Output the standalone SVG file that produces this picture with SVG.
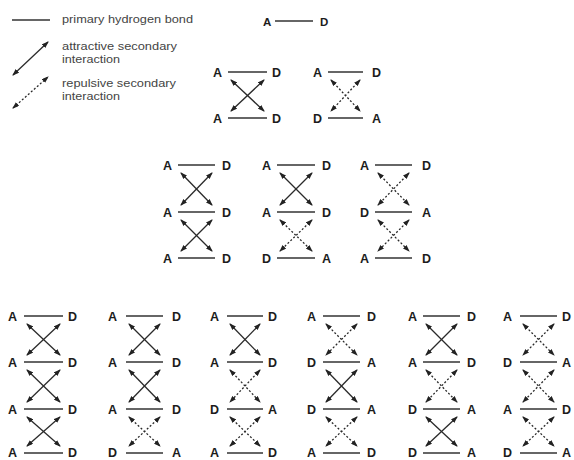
<svg xmlns="http://www.w3.org/2000/svg" width="574" height="460" viewBox="0 0 574 460">
<style>
.bg{fill:#ffffff}
.lt{font-family:"Liberation Sans",Arial,sans-serif;font-weight:bold;font-size:12.5px;fill:#1c1c1c}
.hd{font-size:11.5px}
.lg{font-family:"Liberation Sans",Arial,sans-serif;font-size:11.5px;fill:#444}
.hb{stroke:#333;stroke-width:1.6;fill:none}
.at{stroke:#2a2a2a;stroke-width:1.3;fill:none;marker-start:url(#ah);marker-end:url(#ah)}
.rp{stroke:#2a2a2a;stroke-width:1.3;fill:none;stroke-dasharray:2 2;marker-start:url(#ah);marker-end:url(#ah)}
</style>
<defs>
<marker id="ah" viewBox="0 0 7 5" refX="6" refY="2.5" markerWidth="7" markerHeight="5" markerUnits="userSpaceOnUse" orient="auto-start-reverse">
<path d="M0,0 L7,2.5 L0,5 z" fill="#222"/>
</marker>
</defs>
<rect class="bg" x="0" y="0" width="574" height="460"/>

<g id="legend">
<line class="hb" x1="12" y1="20" x2="50" y2="20"/>
<text class="lg" x="62" y="23" textLength="131" lengthAdjust="spacingAndGlyphs">primary hydrogen bond</text>
<line class="at" x1="13" y1="75" x2="48" y2="42"/>
<text class="lg" x="62" y="50" textLength="115" lengthAdjust="spacingAndGlyphs">attractive secondary</text>
<text class="lg" x="62" y="63" textLength="58" lengthAdjust="spacingAndGlyphs">interaction</text>
<line class="rp" x1="13" y1="108" x2="48" y2="77"/>
<text class="lg" x="62" y="87" textLength="114" lengthAdjust="spacingAndGlyphs">repulsive secondary</text>
<text class="lg" x="62" y="100" textLength="58" lengthAdjust="spacingAndGlyphs">interaction</text>
</g>

<g id="header">
<text class="lt hd" x="263" y="25.5">A</text>
<line class="hb" x1="275" y1="21" x2="313" y2="21"/>
<text class="lt hd" x="320" y="25.5">D</text>
</g>

<!-- Row 1 -->
<g id="s1a">
<text class="lt" x="213" y="77">A</text><line class="hb" x1="228" y1="72" x2="267" y2="72"/><text class="lt" x="272" y="77">D</text>
<text class="lt" x="213" y="123">A</text><line class="hb" x1="228" y1="118" x2="267" y2="118"/><text class="lt" x="272" y="123">D</text>
</g>
<g id="s1b">
<text class="lt" x="313" y="77">A</text><line class="hb" x1="328" y1="72" x2="363" y2="72"/><text class="lt" x="372" y="77">D</text>
<text class="lt" x="313" y="123">D</text><line class="hb" x1="328" y1="118" x2="363" y2="118"/><text class="lt" x="372" y="123">A</text>
</g>

<!-- Row 2 -->
<g id="s2a">
<text class="lt" x="163" y="170">A</text><line class="hb" x1="178" y1="165" x2="215" y2="165"/><text class="lt" x="222" y="170">D</text>
<text class="lt" x="163" y="217">A</text><line class="hb" x1="178" y1="212" x2="215" y2="212"/><text class="lt" x="222" y="217">D</text>
<text class="lt" x="163" y="263">A</text><line class="hb" x1="178" y1="258" x2="215" y2="258"/><text class="lt" x="222" y="263">D</text>
</g>
<g id="s2b">
<text class="lt" x="262" y="170">A</text><line class="hb" x1="277" y1="165" x2="315" y2="165"/><text class="lt" x="322" y="170">D</text>
<text class="lt" x="262" y="217">A</text><line class="hb" x1="277" y1="212" x2="315" y2="212"/><text class="lt" x="322" y="217">D</text>
<text class="lt" x="262" y="263">D</text><line class="hb" x1="277" y1="258" x2="315" y2="258"/><text class="lt" x="322" y="263">A</text>
</g>
<g id="s2c">
<text class="lt" x="360" y="170">A</text><line class="hb" x1="375" y1="165" x2="412" y2="165"/><text class="lt" x="422" y="170">D</text>
<text class="lt" x="360" y="217">D</text><line class="hb" x1="375" y1="212" x2="412" y2="212"/><text class="lt" x="422" y="217">A</text>
<text class="lt" x="360" y="263">A</text><line class="hb" x1="375" y1="258" x2="412" y2="258"/><text class="lt" x="422" y="263">D</text>
</g>

<!-- Row 3 -->
<g id="s3a">
<text class="lt" x="8" y="321">A</text><line class="hb" x1="24" y1="316" x2="63" y2="316"/><text class="lt" x="68" y="321">D</text>
<text class="lt" x="8" y="367">A</text><line class="hb" x1="24" y1="362" x2="63" y2="362"/><text class="lt" x="68" y="367">D</text>
<text class="lt" x="8" y="414">A</text><line class="hb" x1="24" y1="409" x2="63" y2="409"/><text class="lt" x="68" y="414">D</text>
<text class="lt" x="8" y="457">A</text><line class="hb" x1="24" y1="453" x2="63" y2="453"/><text class="lt" x="68" y="457">D</text>
</g>
<g id="s3b">
<text class="lt" x="108" y="321">A</text><line class="hb" x1="126" y1="316" x2="163" y2="316"/><text class="lt" x="172" y="321">D</text>
<text class="lt" x="108" y="367">A</text><line class="hb" x1="126" y1="362" x2="163" y2="362"/><text class="lt" x="172" y="367">D</text>
<text class="lt" x="108" y="414">A</text><line class="hb" x1="126" y1="409" x2="163" y2="409"/><text class="lt" x="172" y="414">D</text>
<text class="lt" x="108" y="457">D</text><line class="hb" x1="126" y1="453" x2="163" y2="453"/><text class="lt" x="172" y="457">A</text>
</g>
<g id="s3c">
<text class="lt" x="210" y="321">A</text><line class="hb" x1="227" y1="316" x2="263" y2="316"/><text class="lt" x="268" y="321">D</text>
<text class="lt" x="210" y="367">A</text><line class="hb" x1="227" y1="362" x2="263" y2="362"/><text class="lt" x="268" y="367">D</text>
<text class="lt" x="210" y="414">D</text><line class="hb" x1="227" y1="409" x2="263" y2="409"/><text class="lt" x="268" y="414">A</text>
<text class="lt" x="210" y="457">A</text><line class="hb" x1="227" y1="453" x2="263" y2="453"/><text class="lt" x="268" y="457">D</text>
</g>
<g id="s3d">
<text class="lt" x="307" y="321">A</text><line class="hb" x1="323" y1="316" x2="360" y2="316"/><text class="lt" x="367" y="321">D</text>
<text class="lt" x="307" y="367">D</text><line class="hb" x1="323" y1="362" x2="360" y2="362"/><text class="lt" x="367" y="367">A</text>
<text class="lt" x="307" y="414">D</text><line class="hb" x1="323" y1="409" x2="360" y2="409"/><text class="lt" x="367" y="414">A</text>
<text class="lt" x="307" y="457">A</text><line class="hb" x1="323" y1="453" x2="360" y2="453"/><text class="lt" x="367" y="457">D</text>
</g>
<g id="s3e">
<text class="lt" x="408" y="321">A</text><line class="hb" x1="423" y1="316" x2="460" y2="316"/><text class="lt" x="467" y="321">D</text>
<text class="lt" x="408" y="367">A</text><line class="hb" x1="423" y1="362" x2="460" y2="362"/><text class="lt" x="467" y="367">D</text>
<text class="lt" x="408" y="414">D</text><line class="hb" x1="423" y1="409" x2="460" y2="409"/><text class="lt" x="467" y="414">A</text>
<text class="lt" x="408" y="457">D</text><line class="hb" x1="423" y1="453" x2="460" y2="453"/><text class="lt" x="467" y="457">A</text>
</g>
<g id="s3f">
<text class="lt" x="503" y="321">A</text><line class="hb" x1="520" y1="316" x2="557" y2="316"/><text class="lt" x="562" y="321">D</text>
<text class="lt" x="503" y="367">D</text><line class="hb" x1="520" y1="362" x2="557" y2="362"/><text class="lt" x="562" y="367">A</text>
<text class="lt" x="503" y="414">A</text><line class="hb" x1="520" y1="409" x2="557" y2="409"/><text class="lt" x="562" y="414">D</text>
<text class="lt" x="503" y="457">D</text><line class="hb" x1="520" y1="453" x2="557" y2="453"/><text class="lt" x="562" y="457">A</text>
</g>

<g id="connectors">
<!-- s1a -->
<line class="at" x1="231" y1="80" x2="264" y2="111"/><line class="at" x1="264" y1="80" x2="231" y2="111"/>
<!-- s1b -->
<line class="rp" x1="331" y1="80" x2="360" y2="111"/><line class="rp" x1="360" y1="80" x2="331" y2="111"/>
<!-- s2a -->
<line class="at" x1="181" y1="173" x2="212" y2="205"/><line class="at" x1="212" y1="173" x2="181" y2="205"/>
<line class="at" x1="181" y1="220" x2="212" y2="251"/><line class="at" x1="212" y1="220" x2="181" y2="251"/>
<!-- s2b -->
<line class="at" x1="280" y1="173" x2="312" y2="205"/><line class="at" x1="312" y1="173" x2="280" y2="205"/>
<line class="rp" x1="280" y1="220" x2="312" y2="251"/><line class="rp" x1="312" y1="220" x2="280" y2="251"/>
<!-- s2c -->
<line class="rp" x1="378" y1="173" x2="409" y2="205"/><line class="rp" x1="409" y1="173" x2="378" y2="205"/>
<line class="rp" x1="378" y1="220" x2="409" y2="251"/><line class="rp" x1="409" y1="220" x2="378" y2="251"/>
<!-- s3a -->
<line class="at" x1="27" y1="324" x2="60" y2="355"/><line class="at" x1="60" y1="324" x2="27" y2="355"/>
<line class="at" x1="27" y1="370" x2="60" y2="402"/><line class="at" x1="60" y1="370" x2="27" y2="402"/>
<line class="at" x1="27" y1="417" x2="60" y2="446"/><line class="at" x1="60" y1="417" x2="27" y2="446"/>
<!-- s3b -->
<line class="at" x1="129" y1="324" x2="160" y2="355"/><line class="at" x1="160" y1="324" x2="129" y2="355"/>
<line class="at" x1="129" y1="370" x2="160" y2="402"/><line class="at" x1="160" y1="370" x2="129" y2="402"/>
<line class="rp" x1="129" y1="417" x2="160" y2="446"/><line class="rp" x1="160" y1="417" x2="129" y2="446"/>
<!-- s3c -->
<line class="at" x1="230" y1="324" x2="260" y2="355"/><line class="at" x1="260" y1="324" x2="230" y2="355"/>
<line class="rp" x1="230" y1="370" x2="260" y2="402"/><line class="rp" x1="260" y1="370" x2="230" y2="402"/>
<line class="rp" x1="230" y1="417" x2="260" y2="446"/><line class="rp" x1="260" y1="417" x2="230" y2="446"/>
<!-- s3d -->
<line class="rp" x1="326" y1="324" x2="357" y2="355"/><line class="rp" x1="357" y1="324" x2="326" y2="355"/>
<line class="at" x1="326" y1="370" x2="357" y2="402"/><line class="at" x1="357" y1="370" x2="326" y2="402"/>
<line class="rp" x1="326" y1="417" x2="357" y2="446"/><line class="rp" x1="357" y1="417" x2="326" y2="446"/>
<!-- s3e -->
<line class="at" x1="426" y1="324" x2="457" y2="355"/><line class="at" x1="457" y1="324" x2="426" y2="355"/>
<line class="rp" x1="426" y1="370" x2="457" y2="402"/><line class="rp" x1="457" y1="370" x2="426" y2="402"/>
<line class="at" x1="426" y1="417" x2="457" y2="446"/><line class="at" x1="457" y1="417" x2="426" y2="446"/>
<!-- s3f -->
<line class="rp" x1="523" y1="324" x2="554" y2="355"/><line class="rp" x1="554" y1="324" x2="523" y2="355"/>
<line class="rp" x1="523" y1="370" x2="554" y2="402"/><line class="rp" x1="554" y1="370" x2="523" y2="402"/>
<line class="rp" x1="523" y1="417" x2="554" y2="446"/><line class="rp" x1="554" y1="417" x2="523" y2="446"/>
</g>
</svg>
